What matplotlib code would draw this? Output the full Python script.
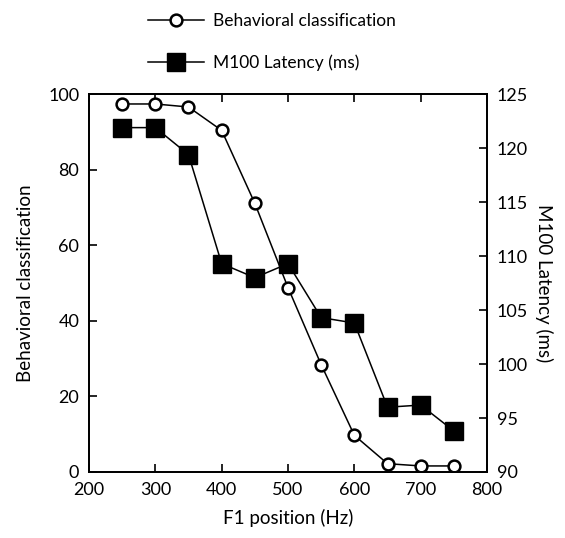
import numpy as np
import matplotlib.pyplot as plt

plt.rcParams['font.family'] = ['Lato', 'DejaVu Sans']

# F1 position (Hz)
f1_pos = [250, 300, 350, 400, 450, 500, 550, 600, 650, 700, 750]
# percentage classified
behavioral = [97.4, 97.4, 96.6, 90.4, 71.1, 48.8, 28.4, 9.7, 2.2, 1.6, 1.6]
# M100 latency in ms
latency = [121.9, 121.9, 119.4, 109.3, 108.0, 109.3, 104.3, 103.8, 96.0, 96.2, 93.8]

fig = plt.figure(figsize=(5.65, 5.38), dpi=100)
ax = fig.add_axes([0.1575, 0.1227, 0.7045, 0.7023])
ax2 = ax.twinx()

l1, = ax.plot(f1_pos, behavioral, color='black', lw=1.1, marker='o', ms=8.5,
              mfc='white', mec='black', mew=1.8, label='Behavioral classification')
l2, = ax2.plot(f1_pos, latency, color='black', lw=1.1, marker='s', ms=12.5,
               mfc='black', mec='black', label='M100 Latency (ms)')

ax.set_xlim(200, 800)
ax.set_ylim(0, 100)
ax2.set_ylim(90, 125)
ax.set_xticks(np.arange(200, 801, 100))
ax.set_yticks(np.arange(0, 101, 20))
ax2.set_yticks(np.arange(90, 126, 5))

ax.tick_params(axis='both', direction='in', length=6, width=1.2, labelsize=13, pad=7)
ax.tick_params(axis='x', top=True)
ax2.tick_params(axis='y', direction='in', length=6, width=1.2, labelsize=13, pad=7)
for a in (ax, ax2):
    for s in a.spines.values():
        s.set_linewidth(1.3)

ax.set_xlabel('F1 position (Hz)', fontsize=13.5, labelpad=8)
ax.set_ylabel('Behavioral classification', fontsize=13.5, labelpad=10)
ax2.set_ylabel('M100 Latency (ms)', fontsize=13.5, rotation=270, labelpad=18)

fig.legend(handles=[l1, l2], loc='upper left', bbox_to_anchor=(0.235, 1.005),
           frameon=False, fontsize=12.5, handlelength=3.2, labelspacing=1.45,
           handletextpad=0.5)

fig.savefig('out.png', dpi=100)
